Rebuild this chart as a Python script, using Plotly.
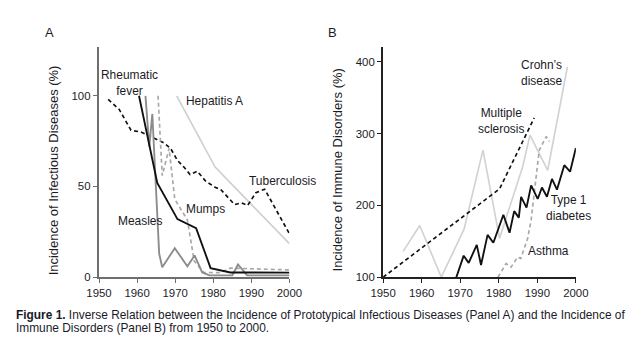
import plotly.graph_objects as go

# ---- Panel A: infectious diseases (% of peak incidence) ----
rheumatic_years = [1960.5, 1965.3, 1970.6, 1975.5, 1979.3, 1984.5, 2000]
rheumatic_vals = [100, 52, 32, 27, 5, 2.6, 2.5]

measles_years = [1962.2, 1963.2, 1964.0, 1965.8, 1966.6, 1969.9, 1973.2, 1975.1,
                 1977.1, 1979.0, 1985.0, 1986.5, 1988.9, 2000]
measles_vals = [100, 72, 90, 13, 5.5, 16, 6, 12, 2.6, 1, 1, 7, 1, 1]

mumps_years = [1965.5, 1966.6, 1968.4, 1969.9, 1973.2, 1975.0, 1977.5, 1982, 1984.5, 2000]
mumps_vals = [100, 56, 71, 43, 31.6, 9, 2.6, 2.5, 5, 4]

hepatitis_years = [1970.4, 1980.5, 2000]
hepatitis_vals = [100, 60.7, 18.5]

tb_years = [1952.4, 1955.3, 1958.4, 1961.0, 1963.6, 1967.1, 1968.8, 1970.6, 1972.3,
            1973.9, 1975.8, 1978.0, 1980.6, 1981.9, 1985.6, 1987.4, 1989.0, 1991.2,
            1993.5, 2000]
tb_vals = [98, 92.5, 81, 80, 77.5, 74, 71, 64.4, 60.7, 56.6, 58.4, 53, 49.4, 48.5,
           40, 41, 39.5, 46.6, 48.5, 24]

# ---- Panel B: immune disorders (% of baseline incidence) ----
ms_years = [1950, 1980.2, 1989.2]
ms_vals = [100, 223, 322]

crohn_years = [1955.2, 1959.5, 1965.1, 1971.0, 1975.9, 1980.2, 1986.2, 1988.1, 1992.7, 1997.8]
crohn_vals = [136, 172, 100, 167, 277, 154, 254, 298, 249, 393]

asthma_years = [1979.8, 1981.9, 1983.2, 1984.9, 1985.7, 1987.5, 1988.4, 1990.5, 1992.3, 1993.1]
asthma_vals = [100, 119, 114, 128, 126, 154, 180, 277, 296, 289]

t1d_years = [1969.0, 1970.9, 1972.2, 1974.3, 1975.4, 1977.1, 1978.6, 1981.2, 1982.8,
             1984.0, 1985.2, 1985.8, 1987.2, 1988.4, 1990.1, 1991.2, 1992.5, 1993.8,
             1995.1, 1997.0, 1998.5, 2000.0]
t1d_vals = [100, 130, 120, 145, 117, 159, 148, 187, 162, 192, 183, 212, 197, 228,
            209, 225, 212, 237, 222, 256, 247, 280]

decade_ticks = [1950, 1960, 1970, 1980, 1990, 2000]

W, H = 640, 340
# The page is shown slightly reduced (body margin); these factors map a
# desired on-screen pixel position to the figure's own pixel grid.
SX, SY, AX, AY = 0.9625, 0.965, 12.0, 6.0
K = 1 / 0.963  # size compensation for the same reduction
FONT = "Liberation Sans, Arial, sans-serif"
INK = "#1b1b1f"


def px_x(p):
    return ((p - AX) / SX) / W


def px_y(p):
    return 1 - ((p - AY) / SY) / H


fig = go.Figure()


def add_line(x, y, color, width, dash, xa, ya):
    fig.add_trace(go.Scatter(x=x, y=y, mode="lines", xaxis=xa, yaxis=ya,
                             line=dict(color=color, width=width * K, dash=dash),
                             hoverinfo="skip", showlegend=False))


DASH = "4px,3px"

# Panel A series
add_line(hepatitis_years, hepatitis_vals, "#cfcfcf", 1.6, "solid", "x", "y")
add_line(tb_years, tb_vals, "#111111", 1.6, DASH, "x", "y")
add_line(mumps_years, mumps_vals, "#a8a8a8", 1.6, DASH, "x", "y")
add_line(measles_years, measles_vals, "#8c8c8c", 1.8, "solid", "x", "y")
add_line(rheumatic_years, rheumatic_vals, "#111111", 1.8, "solid", "x", "y")

# Panel B series
add_line(crohn_years, crohn_vals, "#d2d2d2", 1.6, "solid", "x2", "y2")
add_line(ms_years, ms_vals, "#111111", 1.6, DASH, "x2", "y2")
add_line(asthma_years, asthma_vals, "#a8a8a8", 1.6, DASH, "x2", "y2")
add_line(t1d_years, t1d_vals, "#111111", 1.8, "solid", "x2", "y2")

y_dom = [px_y(278.3), px_y(52)]
tick_font = dict(family=FONT, size=11 * K, color=INK)
common_x = dict(range=[1950, 2000], tickvals=decade_ticks, ticks="outside", ticklen=4 * K,
                showgrid=False, zeroline=False, showline=True, tickfont=tick_font)
common_y = dict(ticks="outside", ticklen=4 * K, showgrid=False, zeroline=False,
                showline=True, tickfont=tick_font)

fig.update_layout(
    width=W, height=H, margin=dict(l=0, r=0, t=0, b=0),
    paper_bgcolor="white", plot_bgcolor="white",
    xaxis=dict(domain=[px_x(98.3), px_x(289.3)], anchor="y", linecolor="#6e6e6e",
               linewidth=2 * K, tickcolor="#6e6e6e", **common_x),
    yaxis=dict(domain=y_dom, anchor="x", range=[0, 127], tickvals=[0, 50, 100],
               linecolor="#6e6e6e", linewidth=2 * K, tickcolor="#6e6e6e", **common_y),
    xaxis2=dict(domain=[px_x(383.3), px_x(576.7)], anchor="y2", linecolor="#222",
                linewidth=1.6 * K, tickcolor="#222", **common_x),
    yaxis2=dict(domain=y_dom, anchor="x2", range=[100, 421], tickvals=[100, 200, 300, 400],
                linecolor="#222", linewidth=1.6 * K, tickcolor="#222", **common_y),
)


def label(text, x, y, xref, yref, xanchor="center", size=11.5):
    fig.add_annotation(text=text, x=x, y=y, xref=xref, yref=yref, xanchor=xanchor,
                       yanchor="middle", showarrow=False, align="center",
                       font=dict(family=FONT, size=size * K, color=INK))


# Series labels, panel A
label("Rheumatic<br>fever", 1958.1, 106.9, "x", "y")
label("Hepatitis A", 1972.2, 97.4, "x", "y", "left")
label("Tuberculosis", 1988.9, 52.8, "x", "y", "left")
label("Mumps", 1972.2, 37.8, "x", "y", "left")
label("Measles", 1954.5, 31.2, "x", "y", "left")

# Series labels, panel B
label("Crohn’s<br>disease", 1991.2, 384.8, "x2", "y2")
label("Multiple<br>sclerosis", 1980.6, 317.4, "x2", "y2")
label("Type 1<br>diabetes", 1998.1, 196.9, "x2", "y2")
label("Asthma", 1992.9, 136.9, "x2", "y2")

# Panel letters
label("A", px_x(49), px_y(37.5), "paper", "paper", size=12.5)
label("B", px_x(332.7), px_y(37.5), "paper", "paper", size=12.5)

# Axis titles
for txt, px in [("Incidence of Infectious Diseases (%)", 52.5),
                ("Incidence of Immune Disorders (%)", 337.5)]:
    fig.add_annotation(text=txt, x=px_x(px), y=px_y(173), xref="paper", yref="paper",
                       textangle=-90, showarrow=False, xanchor="center", yanchor="middle",
                       font=dict(family=FONT, size=12.5 * K, color=INK))

# Caption, two lines
caption_lines = [
    "<b>Figure 1.</b> Inverse Relation between the Incidence of Prototypical Infectious "
    "Diseases (Panel A) and the Incidence of",
    "Immune Disorders (Panel B) from 1950 to 2000.",
]
for line, row in zip(caption_lines, [321, 333.5]):
    fig.add_annotation(text=line, x=1 / W, y=1 - row / H, xref="paper", yref="paper",
                       xanchor="left", yanchor="middle", align="left", showarrow=False,
                       font=dict(family=FONT, size=11.9, color="#1a1a2a"))

fig.write_html("out.html")
